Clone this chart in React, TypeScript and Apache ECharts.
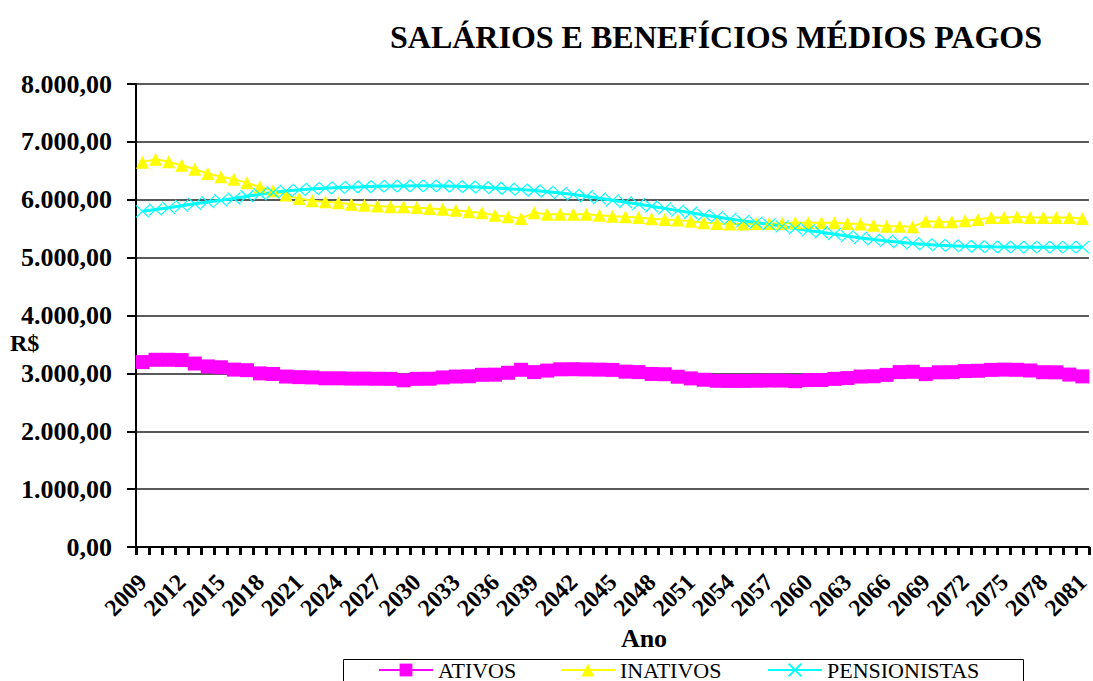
import { useEffect, useRef } from "react";
import * as echarts from "echarts";

const years = [
  "2009", "2010", "2011", "2012", "2013", "2014", "2015", "2016", "2017", "2018",
  "2019", "2020", "2021", "2022", "2023", "2024", "2025", "2026", "2027", "2028",
  "2029", "2030", "2031", "2032", "2033", "2034", "2035", "2036", "2037", "2038",
  "2039", "2040", "2041", "2042", "2043", "2044", "2045", "2046", "2047", "2048",
  "2049", "2050", "2051", "2052", "2053", "2054", "2055", "2056", "2057", "2058",
  "2059", "2060", "2061", "2062", "2063", "2064", "2065", "2066", "2067", "2068",
  "2069", "2070", "2071", "2072", "2073", "2074", "2075", "2076", "2077", "2078",
  "2079", "2080", "2081",
];

const ativos = [
  3195, 3235, 3235, 3230, 3170, 3120, 3105, 3065, 3055, 3000,
  2990, 2945, 2935, 2930, 2915, 2915, 2910, 2910, 2907, 2905,
  2880, 2905, 2908, 2930, 2945, 2950, 2975, 2978, 3010, 3062,
  3022, 3048, 3070, 3072, 3068, 3065, 3060, 3030, 3022, 2990,
  2985, 2942, 2913, 2890, 2872, 2870, 2870, 2872, 2876, 2876,
  2865, 2884, 2886, 2905, 2919, 2945, 2950, 2974, 3022, 3028,
  2987, 3018, 3020, 3040, 3045, 3060, 3065, 3062, 3050, 3020,
  3018, 2979, 2948,
];

const inativos = [
  6650, 6700, 6655, 6597, 6528, 6453, 6396, 6356, 6292, 6223,
  6154, 6080, 6022, 5981, 5964, 5947, 5924, 5907, 5890, 5878,
  5878, 5867, 5850, 5835, 5820, 5791, 5774, 5734, 5705, 5676,
  5774, 5751, 5751, 5751, 5751, 5734, 5717, 5705, 5694, 5671,
  5659, 5648, 5630, 5601, 5590, 5579, 5579, 5590, 5590, 5590,
  5601, 5601, 5601, 5601, 5590, 5579, 5561, 5544, 5544, 5532,
  5630, 5620, 5620, 5636, 5659, 5694, 5694, 5705, 5694, 5694,
  5694, 5694, 5676,
];

const pensionistas = [
  5800, 5830, 5860, 5895, 5930, 5960, 5990, 6022, 6060, 6095,
  6125, 6154, 6170, 6188, 6200, 6210, 6218, 6225, 6232, 6236,
  6238, 6240, 6240, 6238, 6232, 6225, 6215, 6203, 6190, 6175,
  6160, 6140, 6115, 6090, 6060, 6025, 5990, 5958, 5924, 5888,
  5850, 5812, 5775, 5738, 5703, 5668, 5635, 5605, 5575, 5540,
  5505, 5470, 5438, 5405, 5372, 5340, 5312, 5288, 5267, 5245,
  5228, 5215, 5206, 5198, 5192, 5187, 5184, 5182, 5181, 5180,
  5180, 5180, 5180,
];

const seriesNames = ["ATIVOS", "INATIVOS", "PENSIONISTAS"];
const titleText = "SALÁRIOS E BENEFÍCIOS MÉDIOS PAGOS";
const yAxisTitle = "R$";
const xAxisTitle = "Ano";

const SERIF = "'Liberation Serif', 'Times New Roman', serif";

function fmtValue(v: number): string {
  const th = Math.floor(v / 1000);
  const rest = v % 1000;
  if (th > 0) return `${th}.${String(rest).padStart(3, "0")},00`;
  return `${v},00`;
}

export default function App() {
  const ref = useRef<HTMLDivElement>(null);
  useEffect(() => {
    if (!ref.current) return;
    const chart = echarts.init(ref.current, null, { renderer: "svg" });
    const legendBase = {
      top: 659,
      padding: 0,
      itemWidth: 54,
      itemHeight: 16,
      textStyle: { fontFamily: SERIF, fontSize: 22, color: "#000" },
      selectedMode: false as const,
    };
    chart.setOption({
      animation: false,
      backgroundColor: "#fff",
      grid: { left: 136, right: 1, top: 84, bottom: 134, containLabel: false },
      xAxis: {
        type: "category",
        data: years,
        boundaryGap: true,
        axisLine: { lineStyle: { color: "#000", width: 2 } },
        axisTick: {
          show: true,
          interval: 0,
          length: 8,
          lineStyle: { color: "#000", width: 3 },
        },
        axisLabel: {
          interval: 2,
          rotate: 45,
          margin: 31,
          fontFamily: SERIF,
          fontWeight: "bold",
          fontSize: 24,
          color: "#000",
        },
        splitLine: { show: false },
      },
      yAxis: {
        type: "value",
        min: 0,
        max: 8000,
        interval: 1000,
        axisLine: { show: true, lineStyle: { color: "#000", width: 2 } },
        axisTick: { show: true, length: 9, lineStyle: { color: "#000", width: 2 } },
        axisLabel: {
          margin: 24,
          formatter: (v: number) => fmtValue(v),
          fontFamily: SERIF,
          fontWeight: "bold",
          fontSize: 26,
          color: "#000",
        },
        splitLine: { show: true, lineStyle: { color: "#222", width: 1.5 } },
      },
      legend: [
        { ...legendBase, left: 378, data: [seriesNames[0]] },
        { ...legendBase, left: 560, data: [seriesNames[1]] },
        { ...legendBase, left: 767, data: [seriesNames[2]] },
      ],
      graphic: [
        {
          type: "text",
          left: 390,
          top: 21,
          style: {
            text: titleText,
            fontFamily: SERIF,
            fontWeight: "bold",
            fontSize: 32,
            fill: "#000",
          },
        },
        {
          type: "text",
          x: 10,
          y: 343,
          style: {
            text: yAxisTitle,
            fontFamily: SERIF,
            fontWeight: "bold",
            fontSize: 24,
            fill: "#000",
            verticalAlign: "middle",
          },
        },
        {
          type: "text",
          x: 644,
          y: 638,
          style: {
            text: xAxisTitle,
            fontFamily: SERIF,
            fontWeight: "bold",
            fontSize: 26,
            fill: "#000",
            align: "center",
            verticalAlign: "middle",
          },
        },
        {
          type: "rect",
          shape: { x: 343.5, y: 659.5, width: 680, height: 40 },
          style: { fill: "none", stroke: "#000", lineWidth: 1 },
          z: 0,
        },
      ],
      series: [
        {
          name: seriesNames[0],
          type: "line",
          data: ativos,
          symbol: "rect",
          symbolSize: 14,
          showAllSymbol: true,
          itemStyle: { color: "#FF00FF" },
          lineStyle: { color: "#FF00FF", width: 3 },
        },
        {
          name: seriesNames[1],
          type: "line",
          data: inativos,
          symbol: "triangle",
          symbolSize: 13,
          showAllSymbol: true,
          itemStyle: { color: "#FFFF00" },
          lineStyle: { color: "#FFFF00", width: 2 },
        },
        {
          name: seriesNames[2],
          type: "line",
          data: pensionistas,
          symbol: "path://M0,0L10,10M10,0L0,10",
          symbolSize: [13, 12],
          showAllSymbol: true,
          itemStyle: { color: "rgba(0,0,0,0)", borderColor: "#00FFFF", borderWidth: 1.2 },
          lineStyle: { color: "#00FFFF", width: 3 },
        },
      ],
    });
    return () => chart.dispose();
  }, []);
  return (
    <div
      ref={ref}
      style={{ position: "fixed", left: 0, top: 0, width: 1093, height: 681, background: "#fff" }}
    />
  );
}
